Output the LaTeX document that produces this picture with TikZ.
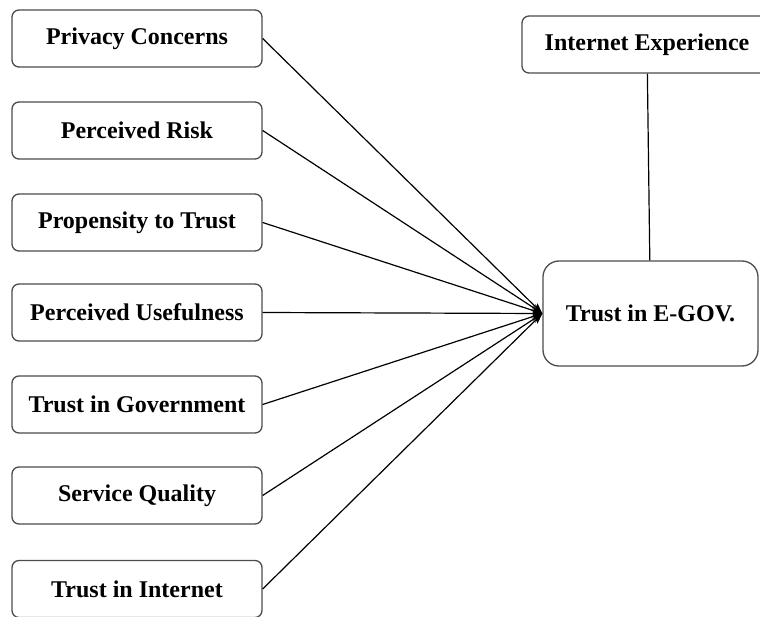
\documentclass[tikz,border=0pt]{standalone}
\usepackage{fontspec}
\setmainfont{Liberation Serif}
\usetikzlibrary{arrows.meta}

\begin{document}
\begin{tikzpicture}[x=1pt, y=-1pt, >={Stealth[length=11pt, width=8pt]},
    factor/.style={draw=black!70, line width=1.3pt, rounded corners=7pt, fill=white,
        minimum width=250pt, minimum height=57pt, inner sep=0pt,
        font=\fontsize{24}{28}\selectfont\bfseries},
    link/.style={->, line width=1.2pt}]
    \useasboundingbox (0,0) rectangle (760,617);

    % Factors on the left
    \node[factor] (privacy) at (137, 38.5) {Privacy Concerns};
    \node[factor] (risk) at (137, 130.5) {Perceived Risk};
    \node[factor] (propensity) at (137, 222.5) {Propensity to Trust};
    \node[factor] (usefulness) at (137, 312.5) {Perceived Usefulness};
    \node[factor] (govtrust) at (137, 404.5) {Trust in Government};
    \node[factor] (quality) at (137, 495.5) {Service Quality};
    \node[factor] (nettrust) at (137, 589) {Trust in Internet};

    % Moderator and outcome
    \node[factor] (experience) at (647, 44.5) {Internet Experience};
    \node[factor, rounded corners=16pt, minimum width=215pt, minimum height=105pt]
        (egov) at (650.5, 313.5) {Trust in E-GOV.};

    % Links into the outcome
    \draw[link] (privacy.east) -- (egov.west);
    \draw[link] (risk.east) -- (egov.west);
    \draw[link] (propensity.east) -- (egov.west);
    \draw[link] (usefulness.east) -- (egov.west);
    \draw[link] (govtrust.east) -- (egov.west);
    \draw[link] (quality.east) -- (egov.west);
    \draw[link] (nettrust.east) -- (egov.west);
    \draw[line width=1.2pt] (experience) -- (egov);
\end{tikzpicture}
\end{document}
